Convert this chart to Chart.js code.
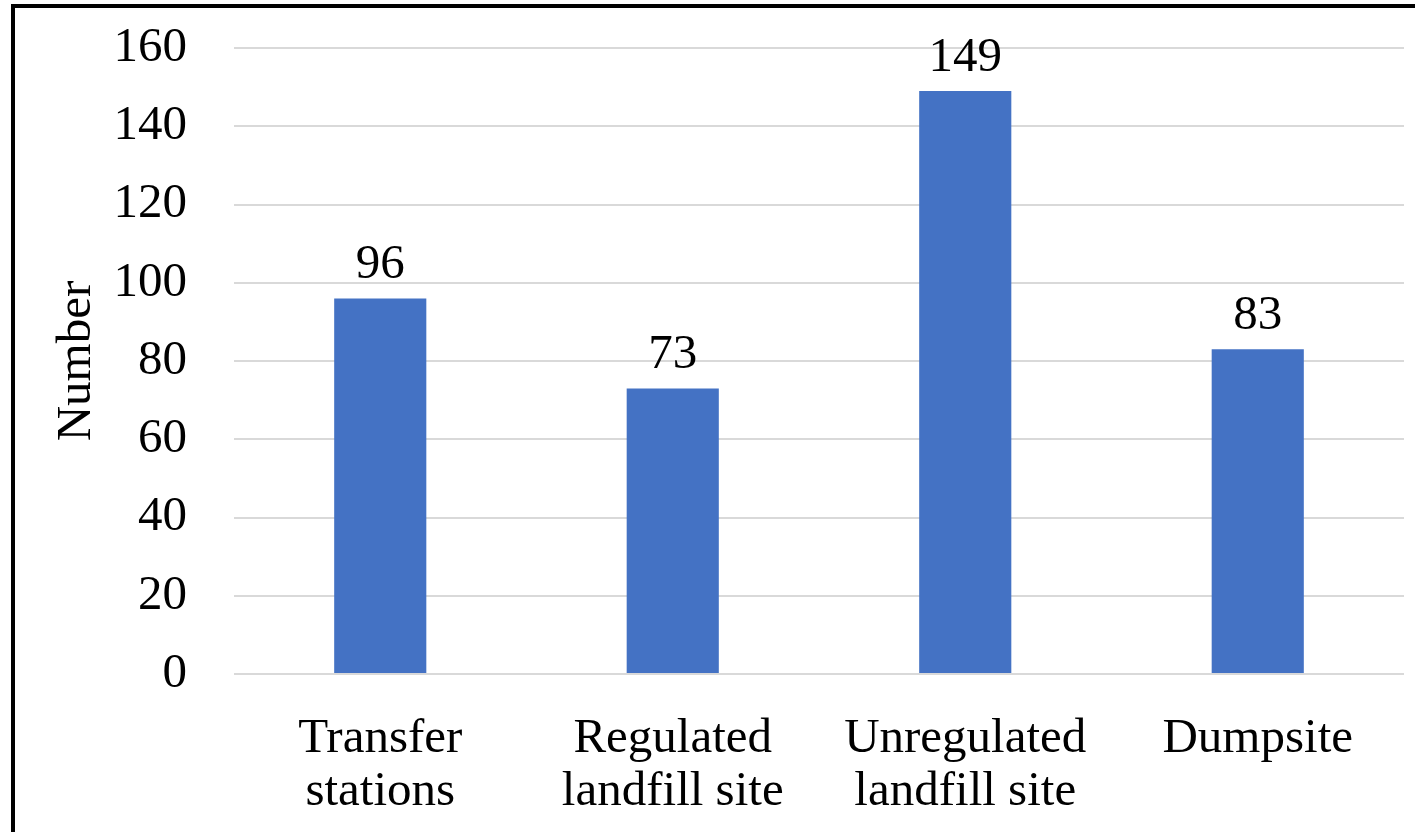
<!DOCTYPE html>
<html>
<head>
<meta charset="utf-8">
<script src="https://cdn.jsdelivr.net/npm/chart.js@4/dist/chart.umd.min.js"></script>
<style>
  body { margin: 0; background: #fff; }
  #wrap { position: relative; width: 1415px; height: 832px; overflow: hidden; }
  #frame { position: absolute; left: 11px; top: 4px; width: 1500px; height: 900px;
           border-left: 4px solid #000; border-top: 4px solid #000; pointer-events: none; }
  canvas { position: absolute; left: 0; top: 0; }
</style>
</head>
<body>
<div id="wrap">
  <canvas id="siteChart" width="1415" height="832"></canvas>
  <div id="frame"></div>
</div>
<script>
const categories = [["Transfer", "stations"], ["Regulated", "landfill site"], ["Unregulated", "landfill site"], ["Dumpsite"]];
const siteCounts = [96, 73, 149, 83];
const yTicks = [0, 20, 40, 60, 80, 100, 120, 140, 160];

const serif = "'Liberation Serif', 'Times New Roman', serif";

// draws the number above every bar
const barLabels = {
  id: 'barLabels',
  afterDatasetsDraw(chart) {
    const ctx = chart.ctx;
    const meta = chart.getDatasetMeta(0);
    ctx.save();
    ctx.font = "49px " + serif;
    ctx.fillStyle = '#000';
    ctx.textAlign = 'center';
    ctx.textBaseline = 'alphabetic';
    meta.data.forEach((bar, i) => {
      ctx.fillText(String(siteCounts[i]), bar.x, bar.y - 20);
    });
    ctx.restore();
  }
};

const ctx = document.getElementById('siteChart').getContext('2d');
const siteChart = new Chart(ctx, {
  type: 'bar',
  data: {
    labels: categories,
    datasets: [{
      data: siteCounts,
      backgroundColor: '#4472C4',
      borderWidth: 0,
      categoryPercentage: 1,
      barPercentage: 0.315
    }]
  },
  options: {
    responsive: false,
    animation: false,
    devicePixelRatio: 1,
    layout: { padding: { top: 48, right: 11, left: 0, bottom: 0 } },
    plugins: {
      legend: { display: false },
      tooltip: { enabled: false }
    },
    scales: {
      x: {
        grid: { display: false },
        border: { display: false },
        ticks: {
          color: '#000',
          font: { family: serif, size: 49, lineHeight: 1.08 },
          padding: 31,
          maxRotation: 0,
          autoSkip: false
        },
        afterFit(scale) { scale.height = 158; }
      },
      y: {
        min: 0,
        max: 160,
        afterBuildTicks(scale) { scale.ticks = yTicks.map(v => ({ value: v })); },
        grid: { color: '#d9d9d9', lineWidth: 2, drawTicks: false },
        border: { display: false },
        ticks: {
          color: '#000',
          font: { family: serif, size: 49 },
          padding: 47
        },
        title: {
          display: true,
          text: 'Number',
          color: '#000',
          font: { family: serif, size: 49 },
          padding: { top: 48, bottom: 0 }
        },
        afterFit(scale) {
          scale.width = 234;
          scale.paddingTop = 0;
          scale.paddingBottom = 0;
        }
      }
    }
  },
  plugins: [barLabels]
});
</script>
</body>
</html>
